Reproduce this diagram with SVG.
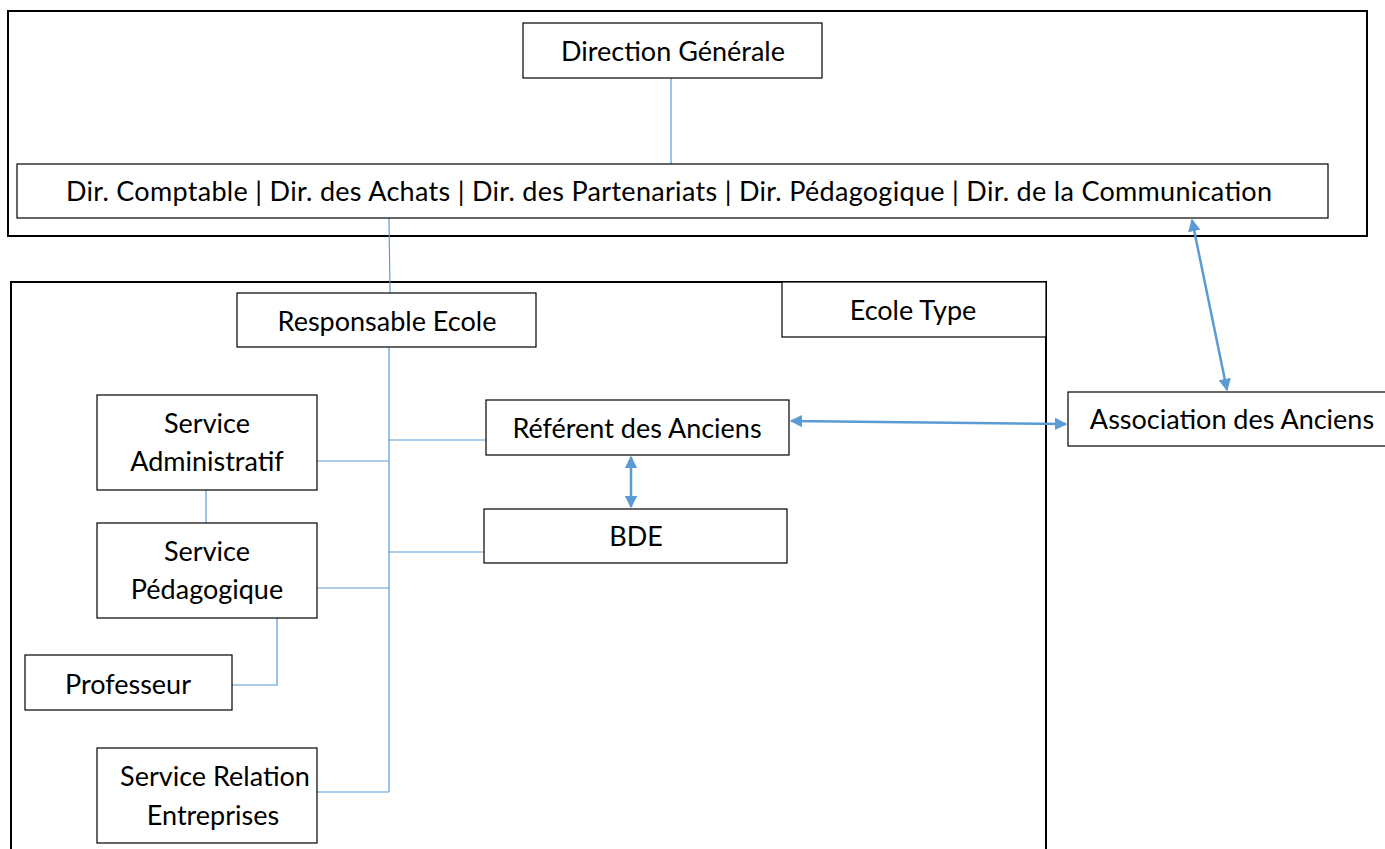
<svg xmlns="http://www.w3.org/2000/svg" width="1385" height="849" viewBox="0 0 1385 849">
<style>
.frame{fill:none;stroke:#000;stroke-width:2}
.box{fill:#fff;stroke:#000;stroke-width:1.2}
.t{font-family:Lato,"Liberation Sans",sans-serif;font-size:27px;fill:#000;text-anchor:middle}
.ln{fill:none;stroke:#5B9BD5;stroke-width:1.2}
.ar{fill:none;stroke:#5B9BD5;stroke-width:2.5;marker-start:url(#ah);marker-end:url(#ah)}
</style>
<defs>
<marker id="ah" viewBox="0 0 10 10" refX="9" refY="5" markerWidth="5" markerHeight="5" orient="auto-start-reverse" markerUnits="strokeWidth">
<path d="M0,0 L10,5 L0,10 z" fill="#5B9BD5"/>
</marker>
</defs>
<rect x="0" y="0" width="1385" height="849" fill="#fff"/>
<g id="frames">
<rect class="frame" x="8" y="11" width="1359" height="225"/>
<path class="frame" d="M11,852 V282 H1046 V852"/>
</g>
<g id="connectors">
<line class="ln" x1="671" y1="78" x2="671" y2="164"/>
<line class="ln" x1="389" y1="218" x2="390" y2="293"/>
<line class="ln" x1="389" y1="347" x2="389" y2="792"/>
<line class="ln" x1="317" y1="461" x2="389" y2="461"/>
<line class="ln" x1="389" y1="440" x2="486" y2="440"/>
<line class="ln" x1="389" y1="552" x2="484" y2="552"/>
<line class="ln" x1="317" y1="588" x2="389" y2="588"/>
<line class="ln" x1="317" y1="792" x2="389" y2="792"/>
<line class="ln" x1="206" y1="490" x2="206" y2="523"/>
<polyline class="ln" points="277,618 277,685 232,685"/>
<line class="ar" x1="791" y1="421" x2="1066" y2="424"/>
<line class="ar" x1="631" y1="457" x2="631" y2="507"/>
<line class="ar" x1="1192" y1="220" x2="1227" y2="390"/>
</g>
<g id="direction-generale">
<rect class="box" x="523" y="23" width="299" height="55"/>
<text class="t" x="673" y="61">Direction Générale</text>
</g>
<g id="directions">
<rect class="box" x="17" y="164" width="1311" height="54"/>
<text class="t" x="669" y="201" textLength="1206" lengthAdjust="spacing">Dir. Comptable | Dir. des Achats | Dir. des Partenariats | Dir. Pédagogique | Dir. de la Communication</text>
</g>
<g id="ecole-type">
<rect class="box" x="782" y="282" width="264" height="55"/>
<text class="t" x="913" y="320">Ecole Type</text>
</g>
<g id="responsable-ecole">
<rect class="box" x="237" y="293" width="299" height="54"/>
<text class="t" x="387" y="331">Responsable Ecole</text>
</g>
<g id="service-administratif">
<rect class="box" x="97" y="395" width="220" height="95"/>
<text class="t" x="207" y="433">Service</text>
<text class="t" x="207" y="471">Administratif</text>
</g>
<g id="service-pedagogique">
<rect class="box" x="97" y="523" width="220" height="95"/>
<text class="t" x="207" y="561">Service</text>
<text class="t" x="207" y="599">Pédagogique</text>
</g>
<g id="professeur">
<rect class="box" x="25" y="655" width="207" height="55"/>
<text class="t" x="128" y="694">Professeur</text>
</g>
<g id="service-relation-entreprises">
<rect class="box" x="97" y="748" width="220" height="95"/>
<text class="t" x="215" y="786">Service Relation</text>
<text class="t" x="213" y="825">Entreprises</text>
</g>
<g id="referent-anciens">
<rect class="box" x="486" y="400" width="303" height="55"/>
<text class="t" x="637" y="438">Référent des Anciens</text>
</g>
<g id="bde">
<rect class="box" x="484" y="509" width="303" height="54"/>
<text class="t" x="636" y="546">BDE</text>
</g>
<g id="association-anciens">
<rect class="box" x="1068" y="392" width="330" height="54"/>
<text class="t" x="1232" y="429">Association des Anciens</text>
</g>
</svg>
